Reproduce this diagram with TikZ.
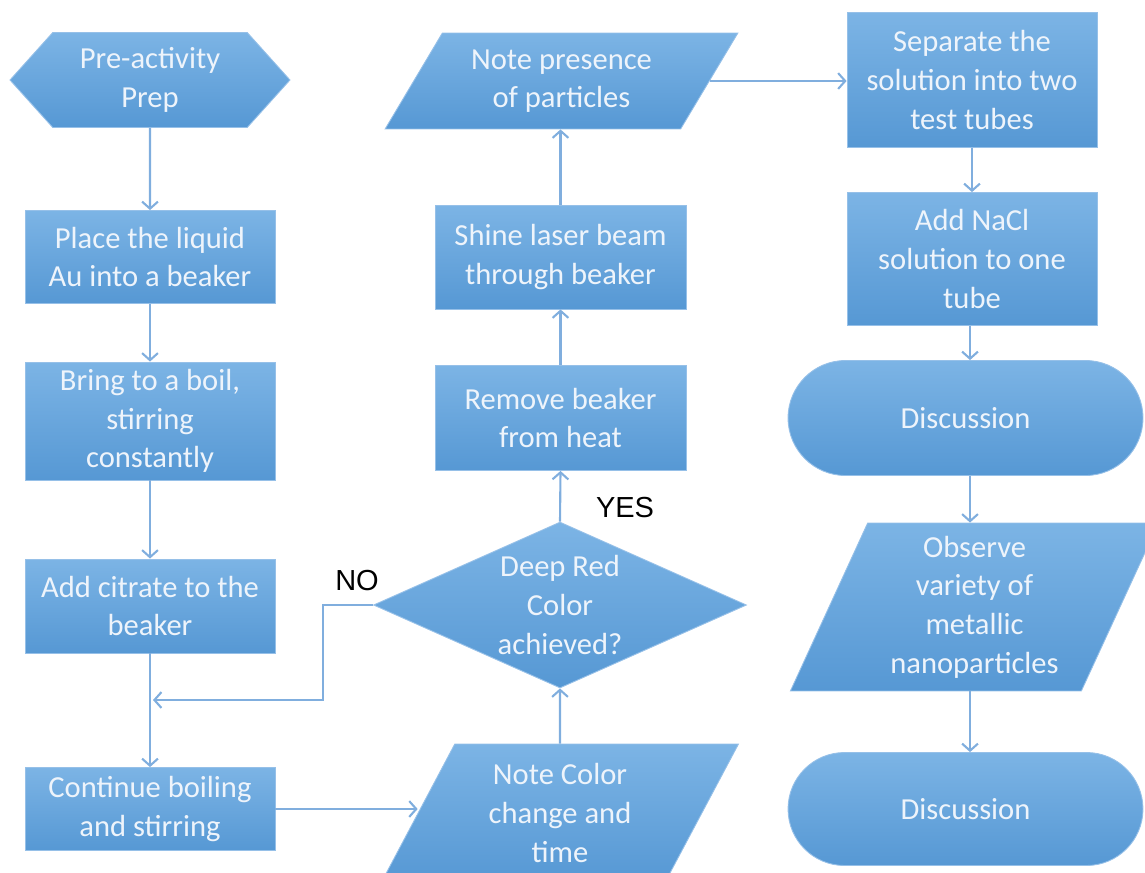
\documentclass[tikz,border=0pt]{standalone}
\usepackage{fontspec}
\setmainfont{Carlito}
\newfontfamily\labelfont{Liberation Sans}
\usetikzlibrary{arrows.meta, shapes.geometric, shapes.symbols, shapes.misc}
\definecolor{boxtop}{RGB}{124,180,229}
\definecolor{boxbot}{RGB}{86,152,212}
\definecolor{boxedge}{RGB}{150,192,232}
\definecolor{flowblue}{RGB}{128,174,222}
\definecolor{boxtext}{RGB}{238,244,251}

\begin{document}
\begin{tikzpicture}[
    x=0.02cm, y=-0.02cm,
    base/.style={top color=boxtop, bottom color=boxbot, draw=boxedge, line width=0.5pt,
        text=boxtext, align=center, inner sep=0pt, font=\fontsize{17.4}{22}\selectfont},
    proc/.style={base, rectangle, minimum width=50mm},
    prep node/.style={base, signal, signal to=west and east, signal pointer angle=96},
    io node/.style={base, trapezium, trapezium stretches=true},
    choice node/.style={base, diamond, aspect=2.25, minimum width=74.6mm, minimum height=33.2mm},
    talk node/.style={base, rounded rectangle, minimum width=71mm},
    flow/.style={draw=flowblue, line width=1.2pt, -{Straight Barb[length=4pt,width=9pt]}},
    answer/.style={font=\labelfont\fontsize{16.5}{19}\selectfont, text=black}
]
    \useasboundingbox (0,0) rectangle (1145,872);
    \clip (0,0) rectangle (1145,872);

    % Left column
    \node[prep node, minimum width=56mm, minimum height=19mm] (prep) at (150,80) {Pre-activity\\Prep};
    \node[proc, minimum height=18.6mm] (place) at (150,257) {Place the liquid\\Au into a beaker};
    \node[proc, minimum height=23.6mm] (boil) at (150,421) {Bring to a boil,\\stirring\\constantly};
    \node[proc, minimum height=18.8mm] (citrate) at (150,606) {Add citrate to the\\beaker};
    \node[proc, minimum height=16.6mm] (cont) at (150,809) {Continue boiling\\and stirring};

    % Middle column
    \node[io node, trapezium left angle=63.3, trapezium right angle=116.7,
          minimum width=71.5mm, minimum height=27.6mm] (notecolor) at (560,813) {Note Color\\change and\\time};
    \node[choice node] (deepred) at (560,605) {Deep Red\\Color\\achieved?};
    \node[proc, minimum width=50.2mm, minimum height=21mm] (remove) at (560.5,418) {Remove beaker\\from heat};
    \node[proc, minimum width=50.2mm, minimum height=20.8mm] (shine) at (560.5,257) {Shine laser beam\\through beaker};
    \node[io node, trapezium left angle=55.5, trapezium right angle=124.5,
          minimum width=70.6mm, minimum height=19.2mm] (presence) at (561.5,81) {Note presence\\of particles};

    % Right column
    \node[proc, minimum height=27mm] (separate) at (972,80) {Separate the\\solution into two\\test tubes};
    \node[proc, minimum height=26.6mm] (nacl) at (972,259) {Add NaCl\\solution to one\\tube};
    \node[talk node, minimum height=23mm] (disc1) at (965.5,418) {Discussion};
    \node[io node, trapezium left angle=66.8, trapezium right angle=113.2,
          minimum width=73.8mm, minimum height=33.6mm] (observe) at (974.5,607) {Observe\\variety of\\metallic\\nanoparticles};
    \node[talk node, minimum height=22.6mm] (disc2) at (965.5,809) {Discussion};

    % Decision labels
    \node[answer] (yes) at (625,508) {YES};
    \node[answer] (no) at (357,581) {NO};
    \coordinate (nojoin) at (153,700);
    \coordinate (rightline) at (970,0);

    % Connectors
    \draw[flow] (prep) -- (place);
    \draw[flow] (place) -- (boil);
    \draw[flow] (boil) -- (citrate);
    \draw[flow] (citrate) -- (cont);
    \draw[flow] (cont.east) -- (cont.east -| notecolor.west);
    \draw[flow] (notecolor.north) -- (deepred.south);
    \draw[flow] (deepred.north) -- (remove.south);
    \draw[flow] (deepred.west) -- ++(-50,0) |- (nojoin);
    \draw[flow] (remove) -- (shine);
    \draw[flow] (shine.north) -- (shine.north |- presence.south);
    \draw[flow] (presence.east) -- (presence.east -| separate.west);
    \draw[flow] (separate) -- (nacl);
    \draw[flow] (rightline |- nacl.south) -- (rightline |- disc1.north);
    \draw[flow] (rightline |- disc1.south) -- (rightline |- observe.north);
    \draw[flow] (rightline |- observe.south) -- (rightline |- disc2.north);
\end{tikzpicture}
\end{document}
